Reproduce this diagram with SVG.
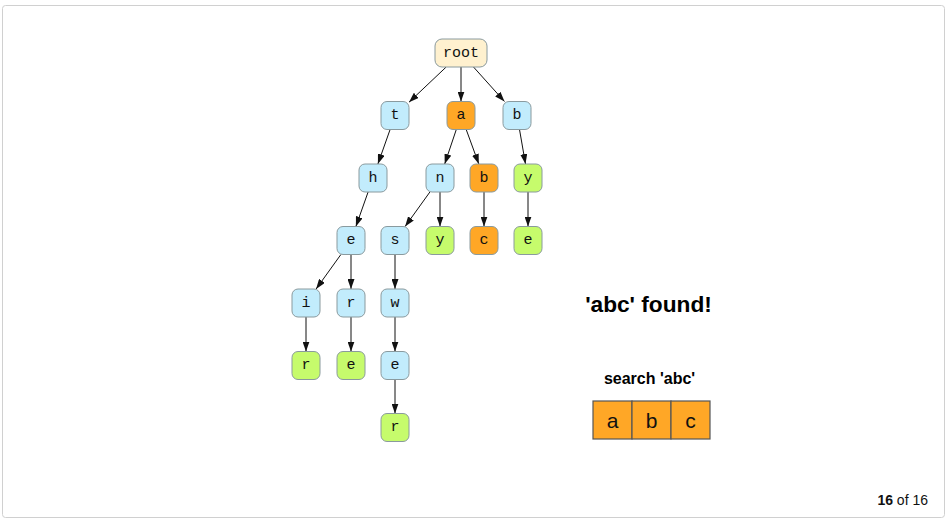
<svg xmlns="http://www.w3.org/2000/svg" width="948" height="522" viewBox="0 0 948 522">
<style>
.frame{fill:#fff;stroke:#d0d0d0;stroke-width:1}
.n rect{stroke:#8a9a9e;stroke-width:1}
.blue rect{fill:#c2ecfc}
.orange rect{fill:#ffa726}
.green rect{fill:#c6fb6c}
.rootn rect{fill:#fff1cf}
.n text{font-family:"Liberation Mono","DejaVu Sans Mono",monospace;font-size:15px;fill:#111;text-anchor:middle;dominant-baseline:central}
.edges line{stroke:#111;stroke-width:1;marker-end:url(#arr)}
.t{font-family:"Liberation Sans",Arial,sans-serif;fill:#000;text-anchor:middle}
.box rect{fill:#ffa726;stroke:#555;stroke-width:1.2}
.box text{font-family:"Liberation Sans",Arial,sans-serif;font-size:21px;fill:#111;text-anchor:middle;dominant-baseline:central}
</style>
<defs>
<marker id="arr" viewBox="0 0 10 7" refX="10" refY="3.5" markerWidth="10" markerHeight="7" orient="auto" markerUnits="userSpaceOnUse">
<path d="M0,0 L10,3.5 L0,7 z" fill="#111"/>
</marker>
</defs>
<rect class="frame" x="2.5" y="5.5" width="942" height="512" rx="3"/>
<g class="edges">
<line x1="446.2" y1="67" x2="409" y2="102.2"/>
<line x1="461" y1="67" x2="461" y2="101.5"/>
<line x1="473.5" y1="67" x2="504.5" y2="101.5"/>
<line x1="390.1" y1="129.5" x2="377.9" y2="164"/>
<line x1="456.3" y1="129.5" x2="444.7" y2="164"/>
<line x1="466.2" y1="129.5" x2="478.8" y2="164"/>
<line x1="519.5" y1="129.5" x2="525.5" y2="164"/>
<line x1="368.1" y1="192" x2="355.9" y2="226.5"/>
<line x1="429.9" y1="192" x2="405.1" y2="226.5"/>
<line x1="440" y1="192" x2="440" y2="226.5"/>
<line x1="484" y1="192" x2="484" y2="226.5"/>
<line x1="528" y1="192" x2="528" y2="226.5"/>
<line x1="340.9" y1="254.5" x2="316.1" y2="289"/>
<line x1="351" y1="254.5" x2="351" y2="289"/>
<line x1="395" y1="254.5" x2="395" y2="289"/>
<line x1="306" y1="317" x2="306" y2="351.5"/>
<line x1="351" y1="317" x2="351" y2="351.5"/>
<line x1="395" y1="317" x2="395" y2="351.5"/>
<line x1="395" y1="379.5" x2="395" y2="413.5"/>
</g>
<g id="root" class="n rootn"><rect x="435" y="39" width="52" height="28" rx="7"/><text x="461" y="53">root</text></g>
<g id="t" class="n blue"><rect x="381" y="101.5" width="28" height="28" rx="6"/><text x="395" y="115.5">t</text></g>
<g id="a" class="n orange"><rect x="447" y="101.5" width="28" height="28" rx="6"/><text x="461" y="115.5">a</text></g>
<g id="b" class="n blue"><rect x="503" y="101.5" width="28" height="28" rx="6"/><text x="517" y="115.5">b</text></g>
<g id="h" class="n blue"><rect x="359" y="164" width="28" height="28" rx="6"/><text x="373" y="178">h</text></g>
<g id="n" class="n blue"><rect x="426" y="164" width="28" height="28" rx="6"/><text x="440" y="178">n</text></g>
<g id="ab" class="n orange"><rect x="470" y="164" width="28" height="28" rx="6"/><text x="484" y="178">b</text></g>
<g id="by" class="n green"><rect x="514" y="164" width="28" height="28" rx="6"/><text x="528" y="178">y</text></g>
<g id="the" class="n blue"><rect x="337" y="226.5" width="28" height="28" rx="6"/><text x="351" y="240.5">e</text></g>
<g id="ans" class="n blue"><rect x="381" y="226.5" width="28" height="28" rx="6"/><text x="395" y="240.5">s</text></g>
<g id="any" class="n green"><rect x="426" y="226.5" width="28" height="28" rx="6"/><text x="440" y="240.5">y</text></g>
<g id="abc" class="n orange"><rect x="470" y="226.5" width="28" height="28" rx="6"/><text x="484" y="240.5">c</text></g>
<g id="bye" class="n green"><rect x="514" y="226.5" width="28" height="28" rx="6"/><text x="528" y="240.5">e</text></g>
<g id="thei" class="n blue"><rect x="292" y="289" width="28" height="28" rx="6"/><text x="306" y="303">i</text></g>
<g id="ther" class="n blue"><rect x="337" y="289" width="28" height="28" rx="6"/><text x="351" y="303">r</text></g>
<g id="answ" class="n blue"><rect x="381" y="289" width="28" height="28" rx="6"/><text x="395" y="303">w</text></g>
<g id="their" class="n green"><rect x="292" y="351.5" width="28" height="28" rx="6"/><text x="306" y="365.5">r</text></g>
<g id="there" class="n green"><rect x="337" y="351.5" width="28" height="28" rx="6"/><text x="351" y="365.5">e</text></g>
<g id="answe" class="n blue"><rect x="381" y="351.5" width="28" height="28" rx="6"/><text x="395" y="365.5">e</text></g>
<g id="answer" class="n green"><rect x="381" y="413.5" width="28" height="28" rx="6"/><text x="395" y="427.5">r</text></g>
<text class="t" x="648.5" y="312" font-size="22.7" font-weight="bold">'abc' found!</text>
<text class="t" x="649.5" y="384" font-size="16" font-weight="bold">search 'abc'</text>
<g id="search" class="box">
<rect x="593" y="401" width="39" height="38"/><text x="612.5" y="420">a</text>
<rect x="632" y="401" width="39" height="38"/><text x="651.5" y="420">b</text>
<rect x="671" y="401" width="39" height="38"/><text x="690.5" y="420">c</text>
</g>
<text x="928" y="505" font-family="'Liberation Sans',Arial,sans-serif" font-size="14" fill="#111" text-anchor="end"><tspan font-weight="bold">16</tspan> of 16</text>
</svg>
